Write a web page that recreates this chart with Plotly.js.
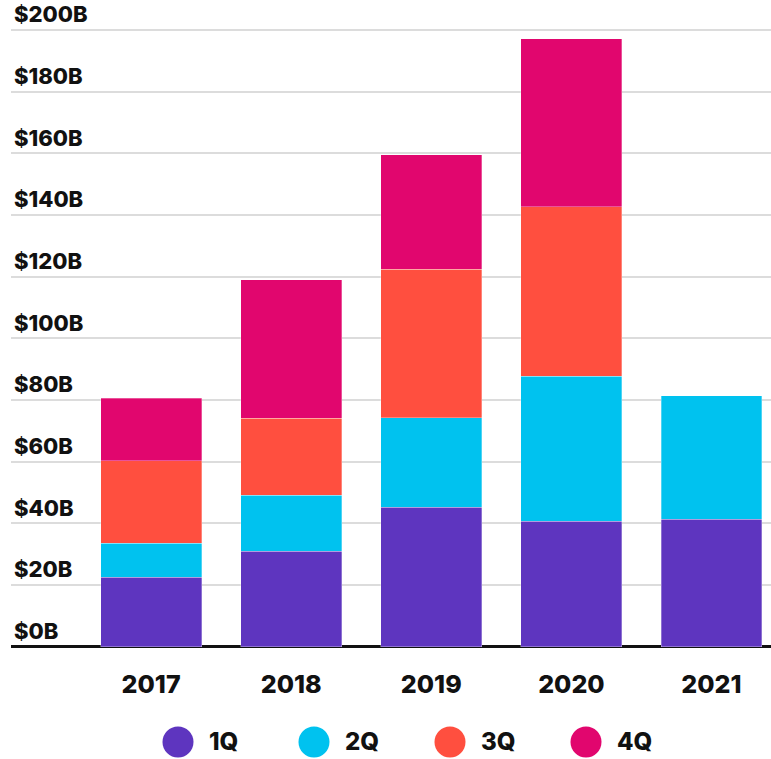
<!DOCTYPE html>
<html><head><meta charset="utf-8">
<script src="https://cdn.plot.ly/plotly-3.0.1.min.js"></script>
<style>html,body{margin:0;padding:0;background:#fff;overflow:hidden}#chart{width:771px;height:759px}</style>
</head><body><div id="chart"></div>
<script>
const years = ['2017', '2018', '2019', '2020', '2021'];
const quarters = ['1Q', '2Q', '3Q', '4Q'];
const q1 = [22.5, 30.9, 45.2, 40.7, 41.3];
const q2 = [11.0, 18.1, 29.0, 47.0, 40.0];
const q3 = [26.7, 25.0, 48.2, 55.0, null];
const q4 = [20.4, 45.0, 37.2, 54.5, null];
const yTickVals = [0, 20, 40, 60, 80, 100, 120, 140, 160, 180, 200];
const yTickText = ['$0B', '$20B', '$40B', '$60B', '$80B', '$100B', '$120B', '$140B', '$160B', '$180B', '$200B'];

const colors = ['#5E35BF', '#00C2EF', '#FF4F3F', '#E1066E'];
const series = [q1, q2, q3, q4];
const FONT = 'Inter, Roboto, "DejaVu Sans", sans-serif';

const traces = series.map((vals, i) => ({
  type: 'bar',
  name: quarters[i],
  x: years,
  y: vals,
  marker: {color: colors[i], line: {color: 'rgba(255,255,255,0.6)', width: 0.5}},
  hoverinfo: 'x+y+name'
}));

// layout geometry (pixels)
const W = 771, H = 759;
const mL = 11, mR = 0, mT = 0, mB = 112;
const plotW = W - mL - mR, plotH = H - mT - mB;

const shapes = [];
const annotations = [];
const legendCx = [178, 314, 450, 586];
const legendCy = 742;
quarters.forEach((q, i) => {
  const px = (legendCx[i] - mL) / plotW;
  const py = (H - mB - legendCy) / plotH;
  shapes.push({
    type: 'circle', xref: 'paper', yref: 'paper',
    xsizemode: 'pixel', ysizemode: 'pixel',
    xanchor: px, yanchor: py,
    x0: -15.5, x1: 15.5, y0: -15.5, y1: 15.5,
    fillcolor: colors[i], line: {width: 0}
  });
  annotations.push({
    xref: 'paper', yref: 'paper',
    x: (legendCx[i] + 29 - mL) / plotW, y: py,
    xanchor: 'left', yanchor: 'middle', showarrow: false,
    text: q, font: {family: FONT, size: 24, weight: 800, color: '#111'}
  });
});

const layout = {
  width: W, height: H,
  margin: {l: mL, r: mR, t: mT, b: mB, pad: 0},
  paper_bgcolor: '#fff', plot_bgcolor: '#fff',
  barmode: 'stack',
  bargap: 0.28,
  showlegend: false,
  xaxis: {
    type: 'category',
    range: [-1.0, 4.425],
    showgrid: false, zeroline: false, showline: false,
    ticks: '',
    tickfont: {family: FONT, size: 25, weight: 800, color: '#111'},
    ticklabelstandoff: 20,
    fixedrange: true
  },
  yaxis: {
    range: [-0.16, 209.73],
    tickvals: yTickVals, ticktext: yTickText,
    ticklabelposition: 'inside top',
    tickfont: {family: FONT, size: 22, weight: 800, color: '#111'},
    showgrid: true, gridcolor: '#dcdcdc', gridwidth: 2,
    zeroline: true, zerolinecolor: '#111', zerolinewidth: 3,
    showline: false, ticks: '',
    fixedrange: true
  },
  shapes: shapes,
  annotations: annotations
};

Plotly.newPlot('chart', traces, layout, {displayModeBar: false, staticPlot: true});
</script>
</body></html>
